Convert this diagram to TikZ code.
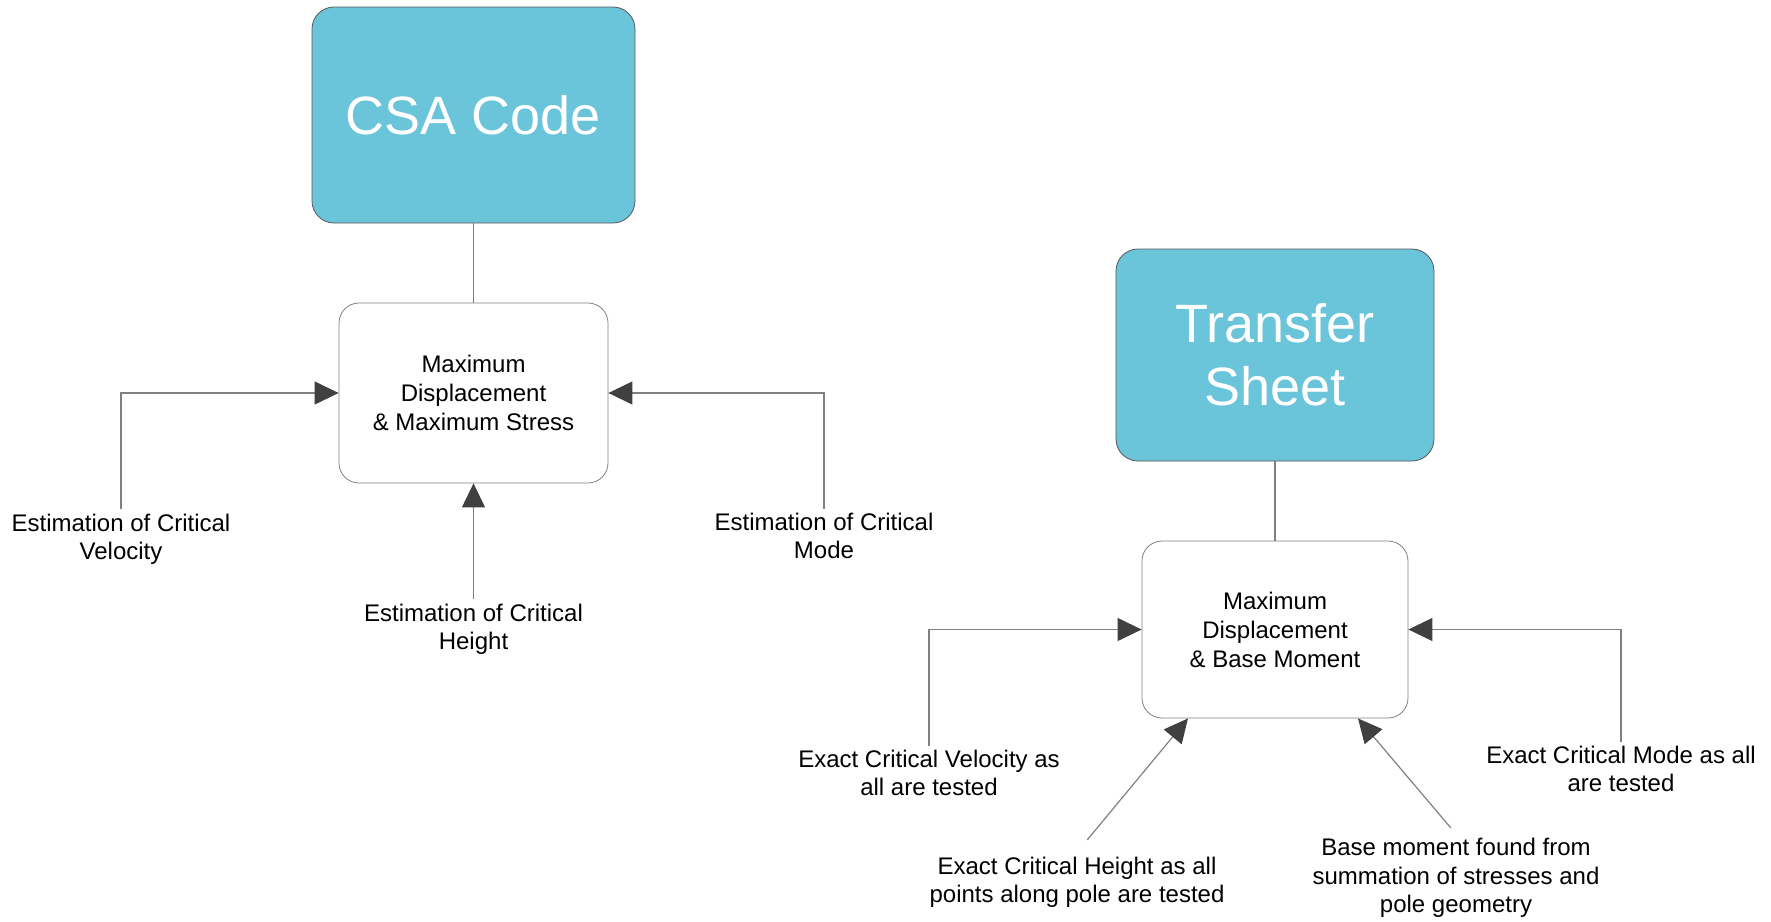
\documentclass[tikz,border=0pt]{standalone}
\usepackage{fontspec}
\setmainfont{Liberation Sans}
\usetikzlibrary{arrows.meta,calc}
\definecolor{boxblue}{RGB}{106,196,218}
\definecolor{linegray}{RGB}{128,128,128}
\definecolor{tipgray}{RGB}{64,64,64}
\tikzset{
 headbox/.style={draw=black!65,fill=boxblue,rounded corners=11pt,text=white,align=center,
  font=\fontsize{27}{31.5}\selectfont},
 resultbox/.style={draw=linegray,fill=white,rounded corners=10pt,align=center,
  font=\fontsize{12}{14.5}\selectfont},
 lbl/.style={align=center,inner sep=2pt,font=\fontsize{12}{14.2}\selectfont},
 link/.style={draw=linegray,line width=0.6pt},
 arr/.style={link,-{Triangle[length=12pt,width=11.5pt,color=tipgray]}}
}
\begin{document}
\begin{tikzpicture}[x=0.5pt,y=-0.5pt]
 \useasboundingbox (0,0) rectangle (1771,921);
 % left part
 \node[headbox,minimum width=161.5pt,minimum height=108pt] (csa) at (473.5,115) {CSA Code};
 \node[resultbox,minimum width=134.5pt,minimum height=90pt] (mdL) at (473.5,393) {Maximum\\Displacement\\\& Maximum Stress};
 \node[lbl] (velL) at (121,539) {Estimation of Critical\\Velocity};
 \node[lbl] (htL) at (473.5,629) {Estimation of Critical\\Height};
 \node[lbl] (modeL) at (824,536) {Estimation of Critical\\Mode};
 \draw[link] (csa.south) -- (mdL.north);
 \draw[arr] (velL.north) |- (mdL.west);
 \draw[arr] (modeL.north) |- (mdL.east);
 \draw[arr] (htL.north) -- (mdL.south);
 % right part
 \node[headbox,minimum width=159pt,minimum height=106pt] (tsheet) at (1275,355) {Transfer\\Sheet};
 \node[resultbox,minimum width=133pt,minimum height=88.5pt] (mdR) at (1275,629.5) {Maximum\\Displacement\\\& Base Moment};
 \node[lbl] (velR) at (929,773) {Exact Critical Velocity as\\all are tested};
 \node[lbl] (htR) at (1077,882) {Exact Critical Height as all\\points along pole are tested};
 \node[lbl] (baseR) at (1456,878) {Base moment found from\\summation of stresses and\\pole geometry};
 \node[lbl] (modeR) at (1621,769) {Exact Critical Mode as all\\are tested};
 \draw[link] (tsheet.south) -- (mdR.north);
 \draw[arr] (velR.north) |- (mdR.west);
 \draw[arr] (modeR.north) |- (mdR.east);
 \draw[arr,shorten <=8pt] (htR.north) -- ($(mdR.south)+(-87,0)$);
 \draw[arr,shorten <=4pt] (baseR.north) -- ($(mdR.south)+(83,0)$);
\end{tikzpicture}
\end{document}
